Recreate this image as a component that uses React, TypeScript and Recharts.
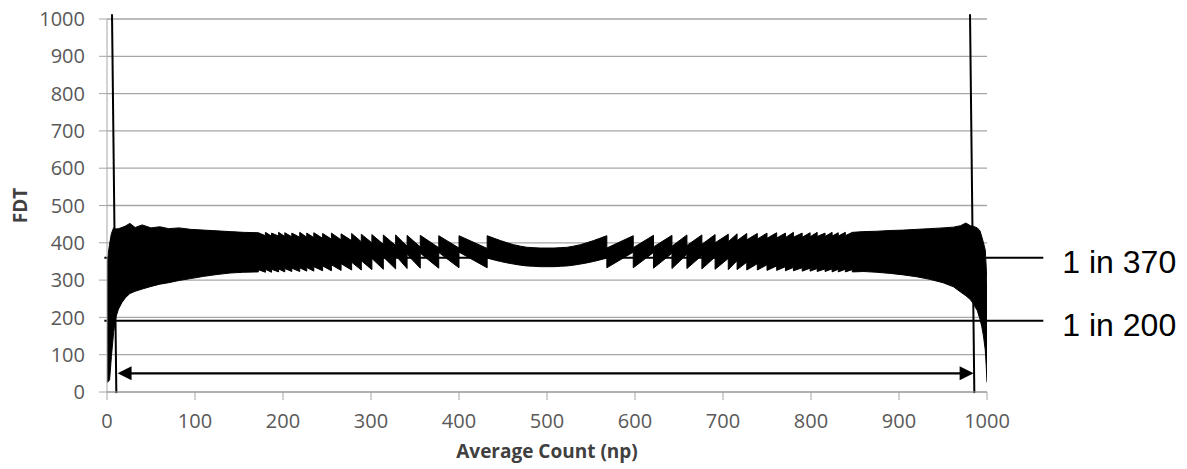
import {
    ComposedChart,
    Area,
    XAxis,
    YAxis,
    CartesianGrid,
    ReferenceLine,
    Label,
} from 'recharts';

const X_TICKS = [0, 100, 200, 300, 400, 500, 600, 700, 800, 900, 1000];
const Y_TICKS = [0, 100, 200, 300, 400, 500, 600, 700, 800, 900, 1000];

// dense left end of the FDT band (solid black)
const leftEdgeX = [0, 1.5, 3, 5, 7.5, 10, 13, 17, 21, 26, 32, 40, 50, 60, 70, 82, 95, 110, 125, 140, 155, 172];
const leftEdgeTop = [336, 372, 398, 425, 440, 437, 438, 441, 445, 452, 441, 448, 440, 443, 438, 440, 436, 434, 432, 430, 428, 427];
const leftEdgeBottom = [26, 28, 33, 95, 159, 200, 222, 240, 253, 264, 270, 276, 283, 289, 293, 299, 304, 310, 315, 319, 321, 322];

// left saw teeth: each tooth starts high at a jump and falls to the next jump
const leftJumpX = [172, 180, 187, 195, 202, 210, 219, 227, 235, 245, 255, 266, 278, 289, 301, 314, 328, 341, 356, 377, 400, 432];
const leftTopStart = [427, 428, 426, 428, 427, 426, 428, 426, 427, 425, 426, 424, 425, 423, 422, 421, 421, 420, 420, 419, 419];
const leftTopEnd = [419, 418, 418, 417, 416, 415, 415, 414, 412, 410, 408, 406, 403, 400, 396, 393, 391, 389, 387, 386, 385];
const leftBotStart = [328, 329, 329, 330, 331, 332, 333, 334, 336, 338, 341, 344, 348, 352, 358, 362, 366, 369, 372, 374, 375];
const leftBotEnd = [321, 321, 322, 322, 323, 323, 324, 324, 325, 325, 326, 327, 327, 328, 329, 330, 331, 332, 332, 333, 333];

// smooth dip in the middle
const arcX = [432, 440, 447, 455, 462, 470, 477, 485, 492, 500, 508, 515, 523, 530, 538, 545, 553, 560, 568];
const arcTop = [419, 412, 406, 400, 395, 391, 388, 387, 386, 386, 386, 387, 388, 391, 395, 400, 406, 412, 419];
const arcBottom = [359, 354, 350, 346, 343, 340, 338, 337, 336, 336, 336, 337, 338, 340, 343, 346, 350, 354, 359];

// right saw teeth: each tooth starts low at a jump and rises to the next jump
const rightJumpX = [568, 598, 621, 642, 659, 676, 691, 706, 716, 727, 739, 750, 761, 771, 780, 790, 799, 807, 816, 824, 831, 839, 847];
const rightTopStart = [386, 387, 389, 391, 393, 396, 400, 403, 406, 408, 410, 412, 413, 414, 415, 415, 416, 417, 417, 418, 418, 419];
const rightTopEnd = [419, 420, 420, 421, 421, 422, 423, 424, 425, 425, 426, 427, 426, 428, 426, 427, 428, 426, 428, 427, 428, 428];
const rightBotStart = [333, 333, 332, 331, 331, 330, 329, 328, 328, 327, 327, 326, 326, 325, 325, 324, 324, 323, 323, 322, 322, 322];
const rightBotEnd = [375, 374, 372, 369, 366, 362, 358, 352, 348, 344, 341, 338, 336, 334, 333, 332, 331, 330, 330, 329, 329, 328];

// dense right end
const rightEdgeX = [847, 860, 875, 890, 905, 920, 935, 950, 962, 970, 976, 981, 985, 989, 992, 994, 996, 998, 999, 1000];
const rightEdgeTop = [428, 430, 431, 433, 434, 436, 438, 440, 442, 446, 453, 446, 444, 440, 432, 417, 400, 381, 340, 290];
const rightEdgeBottom = [322, 323, 321, 318, 314, 309, 302, 293, 282, 268, 258, 248, 235, 218, 195, 176, 150, 113, 75, 26];

// annotations
const LIMIT_370 = 360;
const LIMIT_200 = 191;
const LIMIT_LINE_X = [-3, 1064];
const leftMarker = [{ x: 5.7, y: 1013 }, { x: 10.6, y: -3 }];
const rightMarker = [{ x: 980.7, y: 1013 }, { x: 985.6, y: -3 }];
const ARROW_Y = 50;
const ARROW_X = [12, 984.8];

type BandPoint = { x: number; range: [number, number] };

const band: BandPoint[] = [];
leftEdgeX.forEach((x, i) => band.push({ x, range: [leftEdgeBottom[i], leftEdgeTop[i]] }));
for (let i = 0; i < leftJumpX.length - 1; i++) {
    band.push({ x: leftJumpX[i], range: [leftBotStart[i], leftTopStart[i]] });
    band.push({ x: leftJumpX[i + 1], range: [leftBotEnd[i], leftTopEnd[i]] });
}
arcX.forEach((x, i) => band.push({ x, range: [arcBottom[i], arcTop[i]] }));
for (let i = 0; i < rightJumpX.length - 1; i++) {
    band.push({ x: rightJumpX[i], range: [rightBotStart[i], rightTopStart[i]] });
    band.push({ x: rightJumpX[i + 1], range: [rightBotEnd[i], rightTopEnd[i]] });
}
rightEdgeX.forEach((x, i) => band.push({ x, range: [rightEdgeBottom[i], rightEdgeTop[i]] }));

const TICK_STYLE = { fontSize: 20, fill: '#595959', fontFamily: 'Open Sans' };
const GRAY = '#a6a6a6';

// eslint-disable-next-line @typescript-eslint/no-explicit-any
const DoubleArrow = (props: any) => {
    const { x1, y1, x2, y2 } = props;
    const head = 14;
    const half = 7;
    return (
        <g>
            <line x1={x1 + head - 1} y1={y1} x2={x2 - head + 1} y2={y2} stroke="#000" strokeWidth={2.4} />
            <polygon points={`${x1},${y1} ${x1 + head},${y1 - half} ${x1 + head},${y1 + half}`} fill="#000" />
            <polygon points={`${x2},${y2} ${x2 - head},${y2 - half} ${x2 - head},${y2 + half}`} fill="#000" />
        </g>
    );
};

// eslint-disable-next-line @typescript-eslint/no-explicit-any
const limitLabel = (text: string) => (props: any) => {
    const vb = props.viewBox || {};
    return (
        <text
            x={(vb.x ?? 0) + (vb.width ?? 0) + 19}
            y={(vb.y ?? 0) + 15.6}
            fontSize={32}
            fontFamily="Liberation Sans, Arial, sans-serif"
            fill="#000"
        >
            {text}
        </text>
    );
};

export default function App() {
    return (
        <div style={{ position: 'absolute', left: 0, top: 0, width: 1187, height: 469, background: '#fff' }}>
            <ComposedChart
                width={1187}
                height={469}
                data={band}
                margin={{ top: 19, right: 200, bottom: 0, left: 7 }}
            >
                <CartesianGrid vertical={false} stroke={GRAY} strokeWidth={1.3} />
                <XAxis
                    type="number"
                    dataKey="x"
                    domain={[0, 1000]}
                    ticks={X_TICKS}
                    interval={0}
                    allowDataOverflow
                    height={77}
                    stroke={GRAY}
                    tickSize={8}
                    tickMargin={14}
                    tick={TICK_STYLE}
                >
                    <Label
                        content={(p: any) => {
                            const vb = p.viewBox || { x: 107, y: 392, width: 880 };
                            return (
                                <text
                                    x={vb.x + vb.width / 2}
                                    y={vb.y + 66}
                                    textAnchor="middle"
                                    fontSize={19}
                                    fontWeight={700}
                                    fontFamily="Open Sans"
                                    fill="#404040"
                                >
                                    Average Count (np)
                                </text>
                            );
                        }}
                    />
                </XAxis>
                <YAxis
                    type="number"
                    domain={[0, 1000]}
                    ticks={Y_TICKS}
                    interval={0}
                    allowDataOverflow
                    width={100}
                    stroke={GRAY}
                    tickSize={8}
                    tickMargin={14}
                    tick={TICK_STYLE}
                >
                    <Label
                        content={(p: any) => {
                            const vb = p.viewBox || { y: 19, height: 373 };
                            const cx = 19.5;
                            const cy = vb.y + vb.height / 2;
                            return (
                                <text
                                    x={cx}
                                    y={cy}
                                    transform={`rotate(-90 ${cx} ${cy})`}
                                    textAnchor="middle"
                                    dominantBaseline="central"
                                    fontSize={19}
                                    fontWeight={700}
                                    fontFamily="Open Sans"
                                    fill="#404040"
                                >
                                    FDT
                                </text>
                            );
                        }}
                    />
                </YAxis>
                <Area
                    type="linear"
                    dataKey="range"
                    stroke="#000"
                    strokeWidth={1}
                    fill="#000"
                    fillOpacity={1}
                    dot={false}
                    activeDot={false}
                    isAnimationActive={false}
                />
                <ReferenceLine
                    segment={[{ x: LIMIT_LINE_X[0], y: LIMIT_370 }, { x: LIMIT_LINE_X[1], y: LIMIT_370 }]}
                    ifOverflow="visible"
                    stroke="#000"
                    strokeWidth={2}
                    label={limitLabel('1 in 370')}
                />
                <ReferenceLine
                    segment={[{ x: LIMIT_LINE_X[0], y: LIMIT_200 }, { x: LIMIT_LINE_X[1], y: LIMIT_200 }]}
                    ifOverflow="visible"
                    stroke="#000"
                    strokeWidth={2}
                    label={limitLabel('1 in 200')}
                />
                <ReferenceLine segment={leftMarker} ifOverflow="visible" stroke="#000" strokeWidth={2} />
                <ReferenceLine segment={rightMarker} ifOverflow="visible" stroke="#000" strokeWidth={2} />
                <ReferenceLine
                    segment={[{ x: ARROW_X[0], y: ARROW_Y }, { x: ARROW_X[1], y: ARROW_Y }]}
                    ifOverflow="visible"
                    shape={DoubleArrow}
                />
            </ComposedChart>
        </div>
    );
}
